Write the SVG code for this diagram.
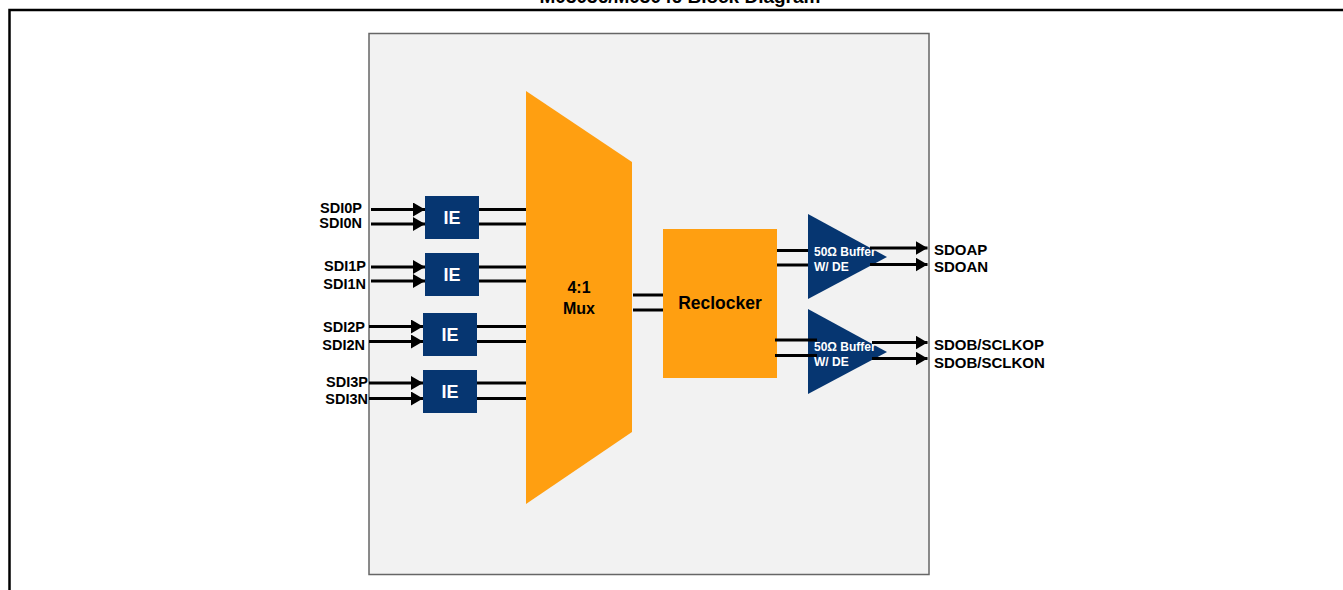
<svg xmlns="http://www.w3.org/2000/svg" width="1343" height="590" viewBox="0 0 1343 590">
<defs>
<style>
.lbl{font-family:"Liberation Sans",Arial,sans-serif;font-weight:bold;fill:#000}
.ie{fill:#063671}
.iet{font-family:"Liberation Sans",Arial,sans-serif;font-weight:bold;font-size:18px;fill:#fff;text-anchor:middle}
.w{stroke:#000;stroke-width:3;fill:none}
.wa{stroke:#000;stroke-width:3;fill:none;marker-end:url(#ah)}
.org{fill:#ff9f11}
.buf{fill:#063671}
.buft{font-family:"Liberation Sans",Arial,sans-serif;font-weight:bold;font-size:12px;fill:#fff}
</style>
<marker id="ah" viewBox="0 0 12 14" refX="12" refY="7" markerWidth="12" markerHeight="14" markerUnits="userSpaceOnUse" orient="auto">
<path d="M0,0 L12,7 L0,14 Z" fill="#000"/>
</marker>
</defs>
<rect width="1343" height="590" fill="#fff"/>
<text class="lbl" x="680" y="3" font-size="19" text-anchor="middle">M03036/M03046 Block Diagram</text>
<path d="M9.5,590 V10 H1343" stroke="#000" stroke-width="2.5" fill="none"/>
<rect id="chip" x="369" y="33.5" width="560" height="541" fill="#f2f2f2" stroke="#666" stroke-width="1.5"/>

<g id="connectors">
<path class="wa" d="M371,209.5 H425"/>
<path class="wa" d="M371,224 H425"/>
<path class="wa" d="M371,267 H425"/>
<path class="wa" d="M371,281 H425"/>
<path class="wa" d="M369,326.5 H423"/>
<path class="wa" d="M369,341.5 H423"/>
<path class="wa" d="M369,383 H423"/>
<path class="wa" d="M369,398.5 H423"/>
<path class="w" d="M479,209.5 H526 M479,224 H526 M479,267 H526 M479,281 H526"/>
<path class="w" d="M477,326.5 H526 M477,341.5 H526 M477,383 H526 M477,398.5 H526"/>
<path class="w" d="M633,295 H663 M633,310 H663"/>
<path class="w" d="M777,250.5 H810 M777,265 H810"/>
</g>

<g id="ie0"><rect class="ie" x="425" y="196" width="54" height="43"/><text class="iet" x="452" y="224">IE</text></g>
<g id="ie1"><rect class="ie" x="425" y="253" width="54" height="43"/><text class="iet" x="452" y="281">IE</text></g>
<g id="ie2"><rect class="ie" x="423" y="313" width="54" height="43"/><text class="iet" x="450" y="341">IE</text></g>
<g id="ie3"><rect class="ie" x="423" y="370" width="54" height="43"/><text class="iet" x="450" y="398">IE</text></g>

<g id="labels-in" class="lbl" font-size="14.5" text-anchor="end">
<text x="362" y="212.5">SDI0P</text>
<text x="362" y="227.5">SDI0N</text>
<text x="366" y="271">SDI1P</text>
<text x="366" y="289">SDI1N</text>
<text x="365" y="331.5">SDI2P</text>
<text x="365" y="349.5">SDI2N</text>
<text x="368" y="386.5">SDI3P</text>
<text x="368" y="403.5">SDI3N</text>
</g>

<g id="mux"><polygon class="org" points="526,91 632,162 632,432 526,504"/>
<text class="lbl" font-size="16" text-anchor="middle" x="579" y="292.5">4:1</text>
<text class="lbl" font-size="16" text-anchor="middle" x="579" y="313.5">Mux</text></g>

<g id="reclocker"><rect class="org" x="663" y="229" width="114" height="149"/>
<text class="lbl" font-size="17.5" text-anchor="middle" x="720" y="309">Reclocker</text></g>

<g id="bufA"><polygon class="buf" points="808,214 887,257 808,299"/>
<text class="buft" x="814" y="255.5">50Ω Buffer</text>
<text class="buft" x="814" y="270.5">W/ DE</text></g>

<g id="bufB"><polygon class="buf" points="808,309 887,352 808,394"/>
<text class="buft" x="814" y="351">50Ω Buffer</text>
<text class="buft" x="814" y="365.5">W/ DE</text></g>

<g id="connectors-out">
<path class="w" d="M775,340 H817 M775,355.5 H817"/>
<path class="wa" d="M870,248 H927.5"/>
<path class="wa" d="M870,264.5 H927.5"/>
<path class="wa" d="M872,342.5 H927.5"/>
<path class="wa" d="M872,358.5 H927.5"/>
</g>

<g id="labels-out" class="lbl" font-size="15">
<text x="934" y="255">SDOAP</text>
<text x="934" y="271.5">SDOAN</text>
<text x="934" y="350">SDOB/SCLKOP</text>
<text x="934" y="367.5">SDOB/SCLKON</text>
</g>
</svg>
